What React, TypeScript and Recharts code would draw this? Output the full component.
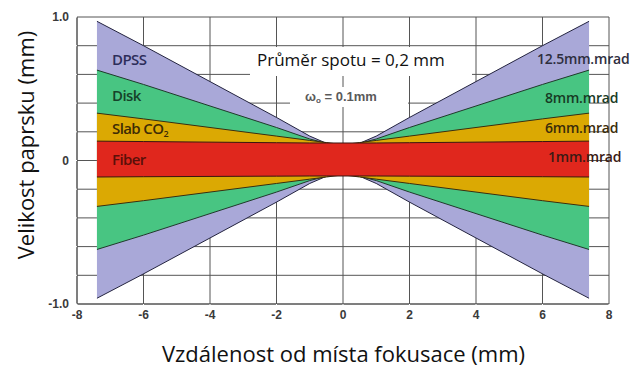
import React from "react";
import {
  ComposedChart,
  Area,
  XAxis,
  YAxis,
  CartesianGrid,
} from "recharts";

const xs = [-7.4, -6, -4, -2, -1, -0.5, 0, 0.5, 1, 2, 4, 6, 7.4];
const dpssHigh = [0.97, 0.8, 0.55, 0.3, 0.17, 0.12, 0.1, 0.12, 0.17, 0.3, 0.55, 0.8, 0.97];
const dpssLow = [-0.96, -0.79, -0.54, -0.29, -0.16, -0.11, -0.09, -0.11, -0.16, -0.29, -0.54, -0.79, -0.96];
const diskHigh = [0.63, 0.53, 0.38, 0.23, 0.15, 0.12, 0.1, 0.12, 0.15, 0.23, 0.38, 0.53, 0.63];
const diskLow = [-0.62, -0.52, -0.37, -0.22, -0.14, -0.11, -0.09, -0.11, -0.14, -0.22, -0.37, -0.52, -0.62];
const slabHigh = [0.33, 0.29, 0.23, 0.17, 0.14, 0.125, 0.11, 0.125, 0.14, 0.17, 0.23, 0.29, 0.33];
const slabLow = [-0.32, -0.28, -0.22, -0.16, -0.13, -0.115, -0.1, -0.115, -0.13, -0.16, -0.22, -0.28, -0.32];
const fiberHigh = [0.135, 0.132, 0.128, 0.124, 0.122, 0.122, 0.122, 0.122, 0.122, 0.124, 0.128, 0.132, 0.135];
const fiberLow = [-0.115, -0.113, -0.111, -0.109, -0.108, -0.108, -0.108, -0.108, -0.108, -0.109, -0.111, -0.113, -0.115];

const xTicks = [-8, -6, -4, -2, 0, 2, 4, 6, 8];
const yTicks = [-1, -0.8, -0.6, -0.4, -0.2, 0, 0.2, 0.4, 0.6, 0.8, 1];
const yLabelMap: Record<string, string> = { "1": "1.0", "0": "0", "-1": "-1.0" };

const leftLabels = ["DPSS", "Disk", "Slab CO", "Fiber"];
const rightLabels = ["12.5mm.mrad", "8mm.mrad", "6mm.mrad", "1mm.mrad"];
const spotText = "Průměr spotu = 0,2 mm";
const waistText = "= 0.1mm";
const xTitle = "Vzdálenost od místa fokusace (mm)";
const yTitle = "Velikost paprsku (mm)";

const data = xs.map((x, i) => ({
  x,
  dpss: [dpssLow[i], dpssHigh[i]],
  disk: [diskLow[i], diskHigh[i]],
  slab: [slabLow[i], slabHigh[i]],
  fiber: [fiberLow[i], fiberHigh[i]],
}));

const GRID = "#555555";
const TICKFONT = { fill: "#3a3a3a", fontSize: 12, fontWeight: 700, fontFamily: "Liberation Sans, Arial, sans-serif" };

const abs = (l: number, t: number, extra: React.CSSProperties = {}): React.CSSProperties => ({
  position: "absolute",
  left: l,
  top: t,
  whiteSpace: "nowrap",
  lineHeight: 1,
  ...extra,
});

const bandFont: React.CSSProperties = {
  fontFamily: "Open Sans, sans-serif",
  fontSize: 15,
  fontWeight: 600,
  letterSpacing: -0.6,
};
const rightFont: React.CSSProperties = {
  fontFamily: "Open Sans, sans-serif",
  fontSize: 14,
  fontWeight: 600,
  letterSpacing: -0.2,
};

export default function App() {
  return (
    <div style={{ position: "absolute", left: 0, top: 0, width: 643, height: 369 }}>
      <ComposedChart
        width={643}
        height={369}
        data={data}
        margin={{ top: 17, right: 34, bottom: 0, left: 0 }}
      >
        <CartesianGrid stroke={GRID} />
        <XAxis
          type="number"
          dataKey="x"
          domain={[-8, 8]}
          ticks={xTicks}
          height={65}
          tickLine={{ stroke: "#ffffff" }}
          stroke={GRID}
          tick={TICKFONT}
          tickMargin={0}
        />
        <YAxis
          type="number"
          domain={[-1, 1]}
          ticks={yTicks}
          width={77}
          tickLine={{ stroke: "#ffffff" }}
          stroke={GRID}
          tick={TICKFONT}
          tickFormatter={(v: number) => yLabelMap[String(v)] ?? ""}
        />
        <Area dataKey="dpss" type="linear" fill="#a9a8d8" fillOpacity={1} stroke="#23233f" isAnimationActive={false} />
        <Area dataKey="disk" type="linear" fill="#48c582" fillOpacity={1} stroke="#1f3a2a" isAnimationActive={false} />
        <Area dataKey="slab" type="linear" fill="#dba903" fillOpacity={1} stroke="#3a2e10" isAnimationActive={false} />
        <Area dataKey="fiber" type="linear" fill="#e0271d" fillOpacity={1} stroke="#3a1510" isAnimationActive={false} />
      </ComposedChart>

      <span style={abs(112, 52, { ...bandFont, color: "#2d2d5a" })}>{leftLabels[0]}</span>
      <span style={abs(112, 88, { ...bandFont, color: "#16422a" })}>{leftLabels[1]}</span>
      <span style={abs(112, 121, { ...bandFont, color: "#3e2c05" })}>
        {leftLabels[2]}
        <sub style={{ fontSize: 9, verticalAlign: "-3px" }}>2</sub>
      </span>
      <span style={abs(112, 152, { ...bandFont, color: "#5a1009" })}>{leftLabels[3]}</span>

      <span style={abs(537, 52, { ...rightFont, color: "#2e2e3e" })}>{rightLabels[0]}</span>
      <span style={abs(545, 91, { ...rightFont, color: "#173a24" })}>{rightLabels[1]}</span>
      <span style={abs(545, 121, { ...rightFont, color: "#3a2c0a" })}>{rightLabels[2]}</span>
      <span style={abs(548, 150, { ...rightFont, color: "#3a1a14" })}>{rightLabels[3]}</span>

      <div
        style={abs(250, 47, {
          width: 222,
          height: 29,
          background: "#fff",
          fontFamily: "Open Sans, sans-serif",
          fontSize: 17,
          color: "#111",
          paddingLeft: 7,
          paddingTop: 4,
          boxSizing: "border-box",
        })}
      >
        {spotText}
      </div>

      <div
        style={abs(290, 87, {
          width: 118,
          height: 20,
          background: "#fff",
          fontFamily: "Liberation Sans, Arial, sans-serif",
          fontSize: 13,
          fontWeight: 700,
          color: "#5a5a5a",
          paddingLeft: 15,
          paddingTop: 3,
          boxSizing: "border-box",
        })}
      >
        ω<sub style={{ fontSize: 8, verticalAlign: "-2px" }}>o</sub> {waistText}
      </div>

      <div
        style={abs(0, 342, {
          width: 687,
          textAlign: "center",
          fontFamily: "Open Sans, sans-serif",
          fontSize: 22,
          color: "#111",
        })}
      >
        {xTitle}
      </div>
      <div
        style={abs(25, 145, {
          fontFamily: "Open Sans, sans-serif",
          fontSize: 22,
          color: "#111",
          transform: "translate(-50%, -50%) rotate(-90deg)",
        })}
      >
        {yTitle}
      </div>
    </div>
  );
}
